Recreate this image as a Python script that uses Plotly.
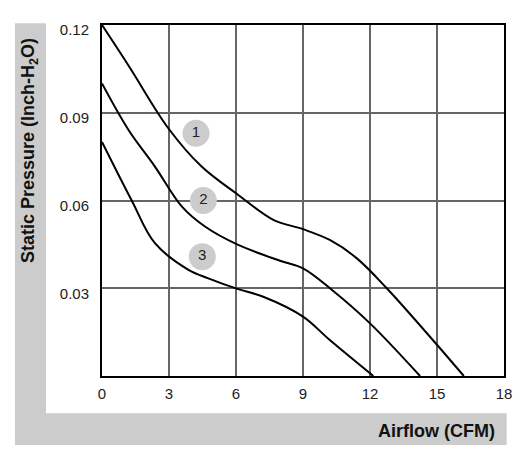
import plotly.graph_objects as go

# ---- data ----
c1_x = [0, 1.2, 2.97, 4.46, 6.1, 7.67, 9.0, 10.2, 11.4, 12.75, 14.94, 16.2]
c1_y = [0.120, 0.106, 0.0847, 0.0716, 0.0619, 0.0534, 0.0502, 0.0465, 0.0403, 0.030, 0.0112, 0.0]

c2_x = [0, 1.18, 2.37, 3.57, 4.61, 6.1, 7.97, 9.0, 10.3, 12.0, 14.24]
c2_y = [0.100, 0.0842, 0.0716, 0.058, 0.0511, 0.0448, 0.0394, 0.0368, 0.0294, 0.018, 0.0]

c3_x = [0, 1.33, 2.37, 3.87, 4.76, 6.1, 7.22, 9.0, 10.2, 12.15]
c3_y = [0.080, 0.060, 0.0454, 0.0363, 0.0334, 0.0297, 0.0271, 0.0203, 0.0123, 0.0]

label_text = ["1", "2", "3"]
label_x = [4.21, 4.54, 4.49]
label_y = [0.083, 0.060, 0.0408]

x_ticks = [0, 3, 6, 9, 12, 15, 18]
y_ticks = [0.03, 0.06, 0.09, 0.12]

# ---- layout geometry ----
W, H = 525, 460
L, R, T, B = 102, 504, 25, 376


def px(x):
    return (x - L) / (R - L)


def py(y):
    return (B - y) / (B - T)


FONT = "Liberation Sans, Arial, sans-serif"

fig = go.Figure()
for xs, ys in [(c1_x, c1_y), (c2_x, c2_y), (c3_x, c3_y)]:
    fig.add_trace(go.Scatter(
        x=xs, y=ys, mode="lines",
        line=dict(color="black", width=2, shape="spline", smoothing=1.0),
        hoverinfo="skip", showlegend=False,
    ))

fig.add_trace(go.Scatter(
    x=label_x, y=label_y, mode="markers+text", text=label_text,
    textposition="middle center",
    textfont=dict(family=FONT, size=15, color="#222222"),
    marker=dict(size=27, color="#cccccc", line=dict(width=0)),
    hoverinfo="skip", showlegend=False,
))

gray = "#cccccc"
fig.add_shape(type="rect", xref="paper", yref="paper",
              x0=px(15), x1=px(46), y0=py(445), y1=py(23.3),
              fillcolor=gray, line=dict(width=0), layer="below")
fig.add_shape(type="rect", xref="paper", yref="paper",
              x0=px(15), x1=px(506.7), y0=py(445), y1=py(413.3),
              fillcolor=gray, line=dict(width=0), layer="below")

fig.add_annotation(
    text="<b>Static Pressure (Inch-H<sub>2</sub>O)</b>",
    xref="paper", yref="paper", x=px(29), y=py(151),
    xanchor="center", yanchor="middle", textangle=-90, showarrow=False,
    font=dict(family=FONT, size=18, color="#111111"),
)
fig.add_annotation(
    text="<b>Airflow (CFM)</b>",
    xref="paper", yref="paper", x=px(497), y=py(431),
    xanchor="right", yanchor="middle", showarrow=False,
    font=dict(family=FONT, size=18, color="#111111"),
)

fig.update_xaxes(
    range=[0, 18], tickvals=x_ticks, ticktext=[str(v) for v in x_ticks],
    showgrid=True, gridcolor="#666666", gridwidth=2,
    showline=True, linecolor="black", linewidth=2, mirror=True,
    zeroline=False, ticks="", ticklabelstandoff=3,
    tickfont=dict(family=FONT, size=15, color="#222222"),
)
fig.update_yaxes(
    range=[0, 0.12], tickvals=y_ticks, ticktext=["0.03", "0.06", "0.09", "0.12"],
    showgrid=True, gridcolor="#666666", gridwidth=2,
    showline=True, linecolor="black", linewidth=2, mirror=True,
    zeroline=False, ticks="", ticklabelstandoff=8, ticklabelshift=5,
    tickfont=dict(family=FONT, size=15, color="#222222"),
)

fig.update_layout(
    width=W, height=H,
    margin=dict(l=L, r=W - R, t=T, b=H - B),
    paper_bgcolor="white", plot_bgcolor="white",
    showlegend=False,
)

fig.write_html("out.html")
